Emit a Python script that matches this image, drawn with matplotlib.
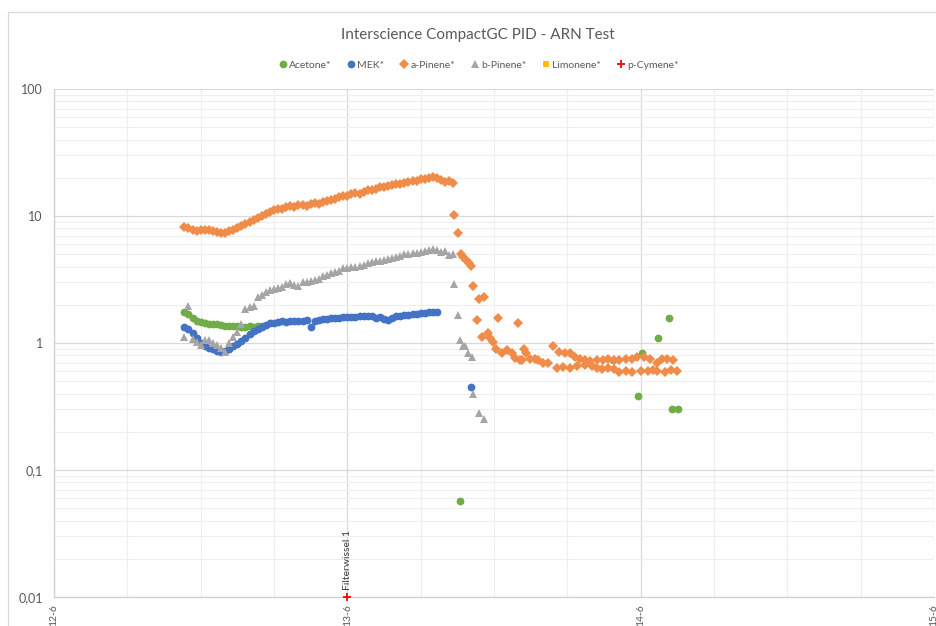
import numpy as np
import matplotlib
matplotlib.use('Agg')
import matplotlib.pyplot as plt
from matplotlib.lines import Line2D
from matplotlib.patches import Rectangle
from matplotlib.ticker import FixedLocator, FixedFormatter, MultipleLocator, LogLocator, NullFormatter

plt.rcParams['font.family'] = ['Lato', 'DejaVu Sans']

# Meetcyclus van de GC: elke 20 minuten, eerste meting 12-6 om 10:40
START_UUR = 10 + 40 / 60
CYCLUS_UUR = 20 / 60

acetone = [1.75, 1.68, 1.58, 1.50, 1.46, 1.44, 1.42, 1.41, 1.40, 1.39,
           1.37, 1.36, 1.35, 1.36, 1.34, 1.33, 1.35, 1.34, 1.36, 1.37]

mek = [1.33, 1.30, 1.20, 1.10, 1.00, 0.95, 0.92, 0.90, 0.87, 0.85,
       0.86, 0.90, 0.94, 0.98, 1.04, 1.10, 1.17, 1.24, 1.29, 1.33,
       1.39, 1.43, 1.45, 1.46, 1.48, 1.47, 1.49, 1.48, 1.50, 1.49,
       1.51, 1.34, 1.50, 1.53, 1.54, 1.55, 1.56, 1.57, 1.58, 1.59,
       1.60, 1.59, 1.61, 1.62, 1.63, 1.64, 1.62, 1.58, 1.60, 1.55,
       1.52, 1.57, 1.62, 1.63, 1.66, 1.67, 1.69, 1.70, 1.72, 1.73,
       1.75, 1.76, 1.74]

a_pinene = [8.2, 8.0, 7.8, 7.6, 7.8, 7.7, 7.8, 7.6, 7.5, 7.4,
            7.3, 7.6, 7.8, 8.0, 8.3, 8.6, 8.9, 9.3, 9.6, 10.0,
            10.4, 10.7, 11.1, 11.4, 11.3, 11.7, 11.9, 11.8, 12.1, 12.2,
            12.0, 12.4, 12.6, 12.5, 12.9, 13.1, 13.3, 13.6, 14.0, 14.3,
            14.5, 14.8, 15.1, 15.0, 15.5, 15.9, 16.0, 16.4, 16.8, 16.9,
            17.2, 17.6, 17.8, 18.0, 18.3, 18.5, 18.7, 19.0, 19.4, 19.5,
            19.8, 20.2, 19.9, 19.2, 18.6, 18.9, 18.2]

b_pinene = [1.12, 1.95, 1.08, 1.02, 0.97, 1.05, 1.06, 1.00, 0.96, 0.92,
            0.85, 1.00, 1.12, 1.22, 1.42, 1.85, 1.92, 1.95, 2.30, 2.40,
            2.50, 2.60, 2.65, 2.72, 2.78, 2.90, 2.95, 2.85, 2.82, 3.00,
            3.02, 3.10, 3.15, 3.20, 3.40, 3.45, 3.55, 3.60, 3.70, 3.88,
            3.92, 3.96, 3.95, 4.05, 4.10, 4.25, 4.35, 4.40, 4.42, 4.50,
            4.60, 4.68, 4.78, 4.88, 5.00, 5.05, 5.10, 5.15, 5.25, 5.30,
            5.40, 5.50, 5.40, 5.25, 5.30, 4.90, 5.00]

# Losse metingen na de doorbraak (uur sinds 12-6 00:00, waarde)
acetone_los_uur = [33.22, 45.74, 47.79, 48.12, 49.43, 50.33, 50.57, 51.06]
acetone_los = [0.057, 0.73, 0.38, 0.83, 1.10, 1.56, 0.30, 0.30]

mek_los_uur = [34.12]
mek_los = [0.454]

a_pinene_los_uur = [32.73, 33.06, 33.30, 33.47, 33.71, 33.96, 34.12, 34.29, 34.61, 34.78,
                    35.02, 35.19, 35.52, 35.68, 35.92, 36.17, 36.33, 36.66, 37.07, 37.48,
                    37.72, 37.97, 38.13, 38.30, 38.46, 38.62, 38.95, 39.36, 39.61, 40.02,
                    40.42, 40.83, 41.16, 41.32, 41.65, 41.82, 42.22, 42.22, 42.63, 42.80,
                    43.04, 43.45, 43.45, 43.86, 44.03, 44.43, 44.43, 44.84, 44.92, 45.33,
                    45.33, 45.85, 45.85, 46.26, 46.26, 46.83, 46.83, 47.32, 47.32, 47.73,
                    48.05, 48.30, 48.63, 48.79, 49.03, 49.30, 49.30, 49.71, 50.03, 50.12,
                    50.45, 50.61, 51.00]
a_pinene_los = [10.1, 7.31, 4.99, 4.73, 4.48, 4.24, 4.01, 2.79, 1.53, 2.24,
                1.12, 2.29, 1.19, 1.09, 1.01, 0.905, 1.56, 0.84, 0.873, 0.827,
                0.768, 1.45, 0.74, 0.74, 0.90, 0.84, 0.755, 0.755, 0.74, 0.70,
                0.69, 0.955, 0.64, 0.855, 0.653, 0.83, 0.83, 0.64, 0.77, 0.665,
                0.755, 0.74, 0.677, 0.728, 0.665, 0.74, 0.641, 0.629, 0.74, 0.755,
                0.641, 0.74, 0.629, 0.74, 0.596, 0.755, 0.607, 0.755, 0.596, 0.77,
                0.607, 0.77, 0.607, 0.755, 0.617, 0.702, 0.607, 0.755, 0.596, 0.755,
                0.617, 0.74, 0.607]

b_pinene_los_uur = [32.73, 33.06, 33.22, 33.47, 33.63, 33.88, 34.20, 34.29, 34.78, 35.19]
b_pinene_los = [2.89, 1.65, 1.05, 0.955, 0.94, 0.827, 0.782, 0.40, 0.283, 0.254]

# p-Cymene: alleen het markeerpunt voor de filterwissel
p_cymene_uur = [24.0]
p_cymene = [0.01]

dag_uren = [0, 24, 48, 72]
dag_labels = ['12-6', '13-6', '14-6', '15-6']
y_waarden = [0.01, 0.1, 1, 10, 100]
y_labels = ['0,01', '0,1', '1', '10', '100']

KLEUREN = {
    'Acetone*': '#70AD47',
    'MEK*': '#4472C4',
    'a-Pinene*': '#F08C4A',
    'b-Pinene*': '#A5A5A5',
    'Limonene*': '#FFC000',
    'p-Cymene*': '#FF0000',
}
MARKERS = {
    'Acetone*': ('o', 5.6),
    'MEK*': ('o', 5.6),
    'a-Pinene*': ('D', 4.6),
    'b-Pinene*': ('^', 5.8),
    'Limonene*': ('s', 5.0),
    'p-Cymene*': ('+', 6.0),
}
TEKST = '#595959'


def meetmomenten(n):
    return START_UUR + CYCLUS_UUR * np.arange(n)


fig = plt.figure(figsize=(9.36, 6.26), dpi=100)

# rand van het grafiekgebied
fig.patches.append(Rectangle((8 / 936, -0.1), 1.2, 1.1 - 12 / 626,
                             transform=fig.transFigure, fill=False,
                             edgecolor='#D9D9D9', linewidth=0.9))

ax = fig.add_axes([54 / 936, 1 - 597 / 626, 880 / 936, 508 / 626])
ax.set_yscale('log')
ax.set_xlim(0, 72)
ax.set_ylim(0.01, 100)

series = [
    ('Acetone*', [(meetmomenten(len(acetone)), acetone), (acetone_los_uur, acetone_los)]),
    ('MEK*', [(meetmomenten(len(mek)), mek), (mek_los_uur, mek_los)]),
    ('a-Pinene*', [(meetmomenten(len(a_pinene)), a_pinene), (a_pinene_los_uur, a_pinene_los)]),
    ('b-Pinene*', [(meetmomenten(len(b_pinene)), b_pinene), (b_pinene_los_uur, b_pinene_los)]),
    ('Limonene*', []),
    ('p-Cymene*', [(p_cymene_uur, p_cymene)]),
]

for z, (naam, delen) in enumerate(series):
    m, ms = MARKERS[naam]
    for x, y in delen:
        ax.plot(x, y, linestyle='none', marker=m, markersize=ms,
                color=KLEUREN[naam], markeredgewidth=1.3 if m == '+' else 0,
                zorder=3 + z, clip_on=False)

ax.annotate('Filterwissel 1', xy=(p_cymene_uur[0], p_cymene[0]), xytext=(0, 5),
            textcoords='offset points', rotation=90, ha='center', va='bottom',
            fontsize=7.5, color='#404040')

# rasterlijnen: dagen en decades donkerder, tussenlijnen lichter
ax.xaxis.set_major_locator(FixedLocator(dag_uren))
ax.xaxis.set_major_formatter(FixedFormatter(dag_labels))
ax.xaxis.set_minor_locator(MultipleLocator(6))
ax.yaxis.set_major_locator(FixedLocator(y_waarden))
ax.yaxis.set_major_formatter(FixedFormatter(y_labels))
ax.yaxis.set_minor_locator(LogLocator(base=10, subs=np.arange(2, 10)))
ax.yaxis.set_minor_formatter(NullFormatter())
ax.grid(which='major', color='#D9D9D9', linewidth=0.9)
ax.grid(which='minor', color='#EEEEEE', linewidth=0.8)
ax.set_axisbelow(True)

ax.tick_params(which='both', length=0)
ax.tick_params(axis='y', labelsize=9, labelcolor=TEKST, pad=8)
ax.tick_params(axis='x', labelsize=7.5, labelcolor=TEKST, pad=5, labelrotation=90)

for kant in ['top', 'right']:
    ax.spines[kant].set_visible(False)
for kant in ['left', 'bottom']:
    ax.spines[kant].set_color('#D0D0D0')
    ax.spines[kant].set_linewidth(0.9)

fig.text(0.511, 1 - 35 / 626, 'Interscience CompactGC PID - ARN Test',
         ha='center', va='center', fontsize=11, color=TEKST)

handles = []
for naam, _ in series:
    m, ms = MARKERS[naam]
    handles.append(Line2D([], [], linestyle='none', marker=m, markersize=ms,
                          color=KLEUREN[naam],
                          markeredgewidth=1.3 if m == '+' else 0, label=naam))
fig.legend(handles=handles, loc='center', bbox_to_anchor=(0.512, 1 - 65 / 626),
           ncol=6, frameon=False, fontsize=7.5, labelcolor=TEKST,
           handlelength=0.6, handletextpad=0.3, columnspacing=1.6)

fig.savefig('out.png', dpi=100)
